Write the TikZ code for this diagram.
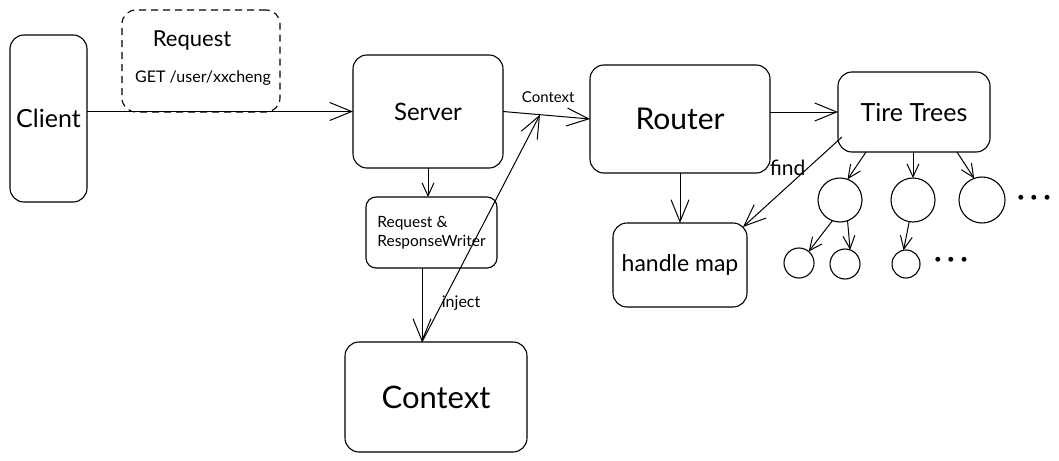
\documentclass[tikz,border=0pt]{standalone}
\usepackage{fontspec}
\setmainfont{Lato}
\usetikzlibrary{arrows.meta, calc}

\tikzset{
  blk/.style={draw, rounded corners=14pt, line width=1.1pt, inner sep=0, outer sep=0},
  leaf/.style={draw, circle, line width=1.1pt, inner sep=0, outer sep=0},
  arr/.style={-{Straight Barb[length=22pt, width=18pt, line width=1pt]}, line width=1pt},
  sarr/.style={-{Straight Barb[length=13pt, width=12pt, line width=1pt]}, line width=1pt},
}
\newcommand{\fs}[1]{\fontsize{#1}{#1}\selectfont}
\newcommand{\mdots}{{\fs{26}\bfseries ·\hspace{6pt}·\hspace{6pt}·}}

\begin{document}
\begin{tikzpicture}[x=1pt, y=-1pt]
      \useasboundingbox (0,0) rectangle (1059,460);

      \node [blk, minimum width=77pt, minimum height=167pt] (cl) at (48.5,118.5) {\fs{25}Client};
      \node [blk, dashed, dash pattern=on 7pt off 5pt, minimum width=158pt, minimum height=102pt] (rq) at (201,61) {};
      \node (rqt) at (192,41) {\fs{22}Request};
      \node (get) at (203,78) {\fs{16}GET /user/xxcheng};
      \node [blk, minimum width=150pt, minimum height=113pt] (srv) at (428,111.5) {\fs{24}Server};
      \node [blk, rounded corners=10pt, minimum width=131pt, minimum height=71pt, align=left, font=\fs{15.5}] (rr) at (431.5,232.5) {Request \&\\[3pt]ResponseWriter};
      \node [blk, minimum width=182pt, minimum height=110pt] (ctx) at (436,397) {\fs{31}Context};
      \node [blk, minimum width=180pt, minimum height=108pt] (rt) at (680,119) {\fs{30}Router};
      \node [blk, minimum width=152pt, minimum height=80pt] (tt) at (914,112) {\fs{25}Tire Trees};
      \node [blk, minimum width=134pt, minimum height=84pt] (hm) at (680,265) {\fs{23}handle map};

      \node [leaf, minimum size=44pt] (c1) at (840,200) {};
      \node [leaf, minimum size=44pt] (c2) at (913,200) {};
      \node [leaf, minimum size=46pt] (c3) at (982,200) {};
      \node [leaf, minimum size=30pt] (d1) at (799,263) {};
      \node [leaf, minimum size=30pt] (d2) at (845,264) {};
      \node [leaf, minimum size=28pt] (d3) at (906,264) {};
      \node (dt1) at (1034,200) {\mdots};
      \node (dt2) at (951,262) {\mdots};

      \coordinate (jn) at ($(srv.east)!0.425!(rt.west)$);
      \coordinate (cin) at ([xshift=-14pt]ctx.north);

      \draw [arr] (cl.east |- srv.west) -- (srv.west);
      \draw [arr] (srv.east) -- (rt.west) node [pos=0.52, above=9pt] {\fs{15}Context};
      \draw [sarr] (srv.south) -- (srv.south |- rr.north);
      \draw [arr] (rr.south -| cin) -- (cin);
      \draw [arr] (cin) -- (jn) node [pos=0.17, right=-4pt] {\fs{16}inject};
      \draw [arr] (rt.east |- tt.west) -- (tt.west);
      \draw [arr] (rt.south) -- (hm.north);
      \draw [arr] ([xshift=4pt, yshift=-25pt]tt.west) -- ([xshift=-4pt, yshift=-4pt]hm.north east)
            node [pos=0.52, xshift=-3pt, yshift=16pt] {\fs{21}find};

      \draw [sarr] ([xshift=-48pt]tt.south) -- (c1.70);
      \draw [sarr] (c2.north |- tt.south) -- (c2.north);
      \draw [sarr] ([xshift=43pt]tt.south) -- (c3.110);
      \draw [sarr] (c1.250) -- (d1.50);
      \draw [sarr] (c1.290) -- (d2.70);
      \draw [sarr] (c2.260) -- (d3.100);
    \end{tikzpicture}
\end{document}
